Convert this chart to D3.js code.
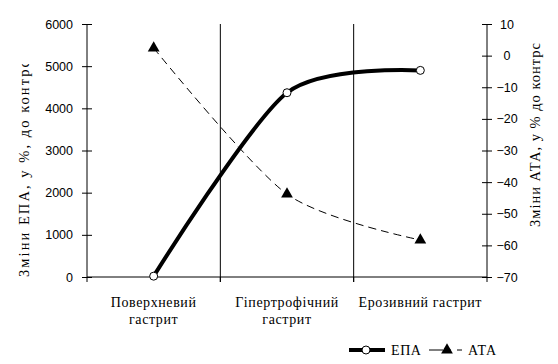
<!DOCTYPE html>
<html><head><meta charset="utf-8">
<script src="https://cdn.jsdelivr.net/npm/d3@7"></script>
<style>body{margin:0;background:#fff}svg{display:block}</style>
</head><body>
<script>
const categories = [["Поверхневий","гастрит"],["Гіпертрофічний","гастрит"],["Ерозивний гастрит"]];
const epaValues = [20, 4370, 4900];
const ataValues = [2.4, -43.8, -58.3];
const leftTicks = [0,1000,2000,3000,4000,5000,6000];
const rightTicks = [10,0,-10,-20,-30,-40,-50,-60,-70];

const W=558,H=364;
const svg=d3.select("body").append("svg").attr("width",W).attr("height",H);
const L=87,R=487,T=24,B=277;
const x=d3.scaleBand().domain(d3.range(categories.length)).range([L,R]);
const yL=d3.scaleLinear().domain([0,6000]).range([B,T]);
const yR=d3.scaleLinear().domain([-70,10]).range([B,T]);
const num="'Liberation Sans',Arial,sans-serif", ser="'Liberation Serif','Times New Roman',serif";

// vertical category dividers
[1,2].forEach(i=>svg.append("line").attr("x1",x(i)).attr("x2",x(i)).attr("y1",T).attr("y2",B+5).attr("stroke","#000"));

// left axis
const gl=svg.append("g").attr("transform",`translate(${L},0)`)
  .call(d3.axisLeft(yL).tickValues(leftTicks).tickSize(5).tickPadding(9).tickFormat(d3.format("d")));
// right axis
const gr=svg.append("g").attr("transform",`translate(${R},0)`)
  .call(d3.axisRight(yR).tickValues(rightTicks).tickSize(5).tickPadding(9).tickFormat(d3.format("d")));
gr.selectAll(".tick text").attr("text-anchor","middle").attr("x",20);
[gl,gr].forEach(g=>{g.select(".domain").attr("d",`M0,${T}V${B}`).attr("stroke","#000");
  g.selectAll(".tick line").attr("x1",-5).attr("x2",5).attr("stroke","#000");
  g.selectAll("text").attr("font-family",num).attr("font-size","12.5px").attr("fill","#000");});

// bottom axis
svg.append("line").attr("x1",L).attr("x2",R).attr("y1",B).attr("y2",B).attr("stroke","#000");
[0,1,2,3].forEach(i=>{const xx=i<3?x(i):R;svg.append("line").attr("x1",xx).attr("x2",xx).attr("y1",B).attr("y2",B+5).attr("stroke","#000");});
categories.forEach((lines,i)=>{
  const t=svg.append("text").attr("x",x(i)+x.bandwidth()/2).attr("y",307).attr("text-anchor","middle")
    .attr("font-family",ser).attr("font-size","14px").attr("letter-spacing","0.6px");
  lines.forEach((s,j)=>t.append("tspan").attr("x",x(i)+x.bandwidth()/2).attr("dy",j?17:0).text(s));
});

// axis titles
svg.append("defs").append("clipPath").attr("id","cl").append("rect").attr("x",0).attr("y",64).attr("width",60).attr("height",240);
svg.append("g").attr("clip-path","url(#cl)").append("text").attr("transform","translate(29,277) rotate(-90)")
  .attr("font-family",ser).attr("font-size","14.5px").attr("textLength",216).attr("lengthAdjust","spacing")
  .text("Зміни ЕПА, у %, до контрс");
svg.append("text").attr("transform","translate(540,227) rotate(-90)")
  .attr("font-family",ser).attr("font-size","14.5px").attr("textLength",184).attr("lengthAdjust","spacing")
  .text("Зміни АТА, у % до контрс");

const cx=i=>x(i)+x.bandwidth()/2;
const curve=d3.curveCardinal.tension(0.2);
// ATA
svg.append("path").datum(ataValues).attr("fill","none").attr("stroke","#000").attr("stroke-width",1)
  .attr("stroke-dasharray","8,5").attr("d",d3.line().x((d,i)=>cx(i)).y(d=>yR(d)).curve(curve));
const tri=d3.symbol().type(d3.symbolTriangle).size(60);
svg.selectAll(".tri").data(ataValues).enter().append("path").attr("d",tri)
  .attr("transform",(d,i)=>`translate(${cx(i)},${yR(d)})`).attr("fill","#000");
// EPA
svg.append("path").datum(epaValues).attr("fill","none").attr("stroke","#000").attr("stroke-width",4)
  .attr("d",d3.line().x((d,i)=>cx(i)).y(d=>yL(d)).curve(curve));
svg.selectAll(".cir").data(epaValues).enter().append("circle").attr("cx",(d,i)=>cx(i)).attr("cy",d=>yL(d))
  .attr("r",4).attr("fill","#fff").attr("stroke","#000");

// legend
const ly=350;
svg.append("line").attr("x1",349).attr("x2",385).attr("y1",ly).attr("y2",ly).attr("stroke","#000").attr("stroke-width",4);
svg.append("circle").attr("cx",366).attr("cy",ly).attr("r",4).attr("fill","#fff").attr("stroke","#000");
svg.append("text").attr("x",391).attr("y",ly+5).attr("font-family",ser).attr("font-size","14px").attr("letter-spacing","0.6px").text("ЕПА");
svg.append("line").attr("x1",429).attr("x2",462).attr("y1",ly).attr("y2",ly).attr("stroke","#000").attr("stroke-dasharray","14,6,2,6");
svg.append("path").attr("d",tri).attr("transform",`translate(447,${ly})`).attr("fill","#000");
svg.append("text").attr("x",468).attr("y",ly+5).attr("font-family",ser).attr("font-size","14px").attr("letter-spacing","0.6px").text("АТА");
</script>
</body></html>
